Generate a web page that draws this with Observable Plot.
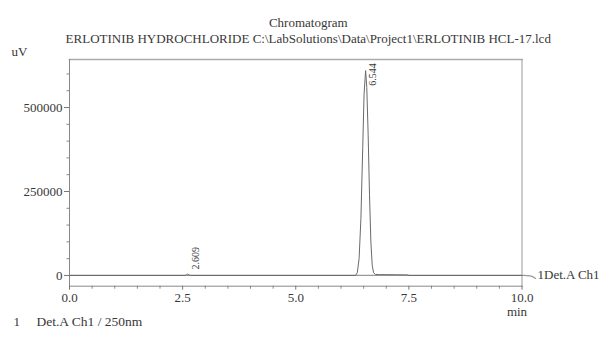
<!DOCTYPE html>
<html>
<head>
<meta charset="utf-8">
<script src="https://cdn.jsdelivr.net/npm/d3@7"></script>
<script src="https://cdn.jsdelivr.net/npm/@observablehq/plot@0.6"></script>
<style>
  html, body { margin: 0; padding: 0; background: #fff; }
  #chart svg { display: block; }
  #chart svg, #chart svg text { font-family: "Liberation Serif", "DejaVu Serif", serif !important; }
</style>
</head>
<body>
<div id="chart"></div>
<script>
// ---- data ----
const title = "Chromatogram";
const subtitle = "ERLOTINIB HYDROCHLORIDE C:\\LabSolutions\\Data\\Project1\\ERLOTINIB HCL-17.lcd";
const yUnit = "uV";
const xUnit = "min";
const channelName = "1Det.A Ch1";
const footerIndex = "1";
const footerText = "Det.A Ch1 / 250nm";

// retention time (min) and signal (uV)
const times  = [0, 2.55, 2.58, 2.609, 2.64, 2.67, 6.32, 6.36, 6.40, 6.44, 6.48, 6.51, 6.544, 6.57, 6.60, 6.63, 6.66, 6.69, 6.72, 6.76, 6.85, 7.2, 7.48, 7.5, 10];
const signal = [0, 0, 1500, 4000, 1500, 0, 0, 8000, 50000, 170000, 380000, 540000, 610000, 560000, 420000, 240000, 100000, 30000, 8000, 3000, 2500, 2000, 1500, 0, 0];

const peakTimes  = [2.609, 6.544];
const peakLabels = ["2.609", "6.544"];

const yMajor = [0, 250000, 500000];
const yMinor = [50000, 100000, 150000, 200000, 300000, 350000, 400000, 450000, 550000, 600000];
const xMajor = [0, 2.5, 5, 7.5, 10];
const xMinor = [0.5, 1, 1.5, 2, 3, 3.5, 4, 4.5, 5.5, 6, 6.5, 7, 8, 8.5, 9, 9.5];

// connector from the baseline to the channel name, outside the frame
const connX = [10, 10.2, 10.3];
const connY = [0, 0, -9000];

const trace = times.map((t, i) => ({t, v: signal[i]}));
const peaks = peakTimes.map((t, i) => ({t, label: peakLabels[i]}));
const conn = connX.map((x, i) => ({x, y: connY[i]}));

const textColor = "#383838";
const serif = "'Liberation Serif', 'DejaVu Serif', serif";

const chart = Plot.plot({
  width: 599,
  height: 337,
  marginLeft: 69,
  marginRight: 77.5,
  marginTop: 59,
  marginBottom: 51.3,
  style: {fontFamily: serif, fontSize: "13px", color: textColor, background: "#fff"},
  x: {domain: [0, 10]},
  y: {domain: [-32000, 643000]},
  marks: [
    // frame lines
    Plot.frame({anchor: "top", stroke: "#aaa", strokeWidth: 1.6}),
    Plot.frame({anchor: "right", stroke: "#999"}),
    Plot.frame({anchor: "left", stroke: "#888"}),
    Plot.frame({anchor: "bottom", stroke: "#888"}),
    // baseline at 0 and connector to channel name
    Plot.ruleY([0], {stroke: "#999", strokeWidth: 1.2}),
    Plot.line(conn, {x: "x", y: "y", stroke: "#999", strokeWidth: 1.2, curve: "basis"}),
    Plot.text([channelName], {frameAnchor: "bottom-right", dx: 15.5, dy: -7.7, textAnchor: "start", fill: textColor, fontSize: 13}),
    // chromatogram trace
    Plot.line(trace, {x: "t", y: "v", stroke: "#6a6a6a", strokeWidth: 1}),
    // peak labels
    Plot.text(peaks.slice(0, 1), {x: "t", y: d => 18000, text: "label", rotate: -90, textAnchor: "start", dx: 8, fontSize: 10, fill: textColor}),
    Plot.text(peaks.slice(1), {x: "t", y: d => 565000, text: "label", rotate: -90, textAnchor: "start", dx: 7, fontSize: 10, fill: textColor}),
    // axes
    Plot.axisY({ticks: yMajor, tickSize: 5, tickPadding: 2, tickFormat: d => String(d), label: null, fill: textColor, stroke: "#777"}),
    Plot.axisY({ticks: yMinor, tickSize: 2.5, text: null, label: null, stroke: "#888"}),
    Plot.axisX({ticks: xMajor, tickSize: 4, tickPadding: 2.5, tickFormat: d3.format(".1f"), label: null, fill: textColor, stroke: "#777"}),
    Plot.axisX({ticks: xMinor, tickSize: 3, text: null, label: null, stroke: "#888"}),
    // unit labels
    Plot.text([yUnit], {frameAnchor: "top-left", dx: -50, dy: -13, textAnchor: "middle", fill: textColor, fontSize: 13}),
    Plot.text([xUnit], {frameAnchor: "bottom-right", dx: -5, dy: 30, textAnchor: "middle", fill: textColor, fontSize: 13}),
    // titles
    Plot.text([title], {frameAnchor: "top", dx: 12.5, dy: -42, fill: textColor, fontSize: 13}),
    Plot.text([subtitle], {frameAnchor: "top", dx: 12.5, dy: -26, fill: textColor, fontSize: 13}),
    // footer
    Plot.text([footerIndex], {frameAnchor: "bottom-left", dx: -56, dy: 40, textAnchor: "start", fill: textColor, fontSize: 13}),
    Plot.text([footerText], {frameAnchor: "bottom-left", dx: -33, dy: 40, textAnchor: "start", fill: textColor, fontSize: 13.5})
  ]
});
document.getElementById("chart").appendChild(chart);
</script>
</body>
</html>
